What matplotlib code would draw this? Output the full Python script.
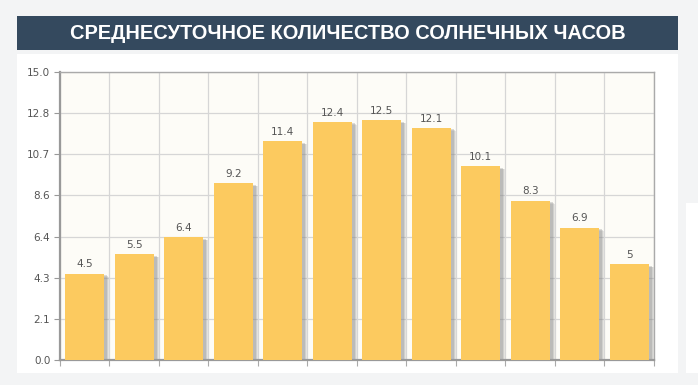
import numpy as np
import matplotlib.pyplot as plt
import matplotlib.transforms as mtransforms
from matplotlib.patches import Rectangle

# данные: среднесуточное количество солнечных часов по месяцам
months = list(range(1, 13))
hours = [4.5, 5.5, 6.4, 9.2, 11.4, 12.4, 12.5, 12.1, 10.1, 8.3, 6.9, 5]
hour_labels = ['4.5', '5.5', '6.4', '9.2', '11.4', '12.4', '12.5', '12.1', '10.1', '8.3', '6.9', '5']
y_max = 15.0
y_tick_labels = ['0.0', '2.1', '4.3', '6.4', '8.6', '10.7', '12.8', '15.0']

W, H = 698, 385
fig = plt.figure(figsize=(W / 100, H / 100), dpi=100)
fig.patch.set_facecolor('#f3f4f5')

# белая подложка и баннер заголовка (в пикселях фигуры)
def px_rect(x0, y0, x1, y1, color):
    fig.patches.append(Rectangle((x0 / W, 1 - y1 / H), (x1 - x0) / W, (y1 - y0) / H,
                                 transform=fig.transFigure, facecolor=color,
                                 edgecolor='none', zorder=-5))

px_rect(17, 54, 678, 373, '#ffffff')
px_rect(686, 203, 698, 373, '#ffffff')
px_rect(17, 16, 678, 50, '#34495e')
fig.text(347.5 / W, 1 - 33.5 / H, 'СРЕДНЕСУТОЧНОЕ КОЛИЧЕСТВО СОЛНЕЧНЫХ ЧАСОВ',
         color='white', fontsize=14.4, fontweight='bold', family='Liberation Sans',
         ha='center', va='center')

ax = fig.add_axes([60 / W, 25 / H, 594 / W, 288 / H])
ax.set_zorder(1)
ax.set_facecolor('#fdfcf7')

x = np.arange(len(months))
bw = 0.79

# тень под столбцами (размытая, из нескольких слоёв)
for dx, dy, a in [(5, -3, 0.18), (4, -2.5, 0.25), (3, -1.5, 0.3)]:
    off = mtransforms.offset_copy(ax.transData, fig=fig, x=dx, y=dy, units='dots')
    ax.bar(x, hours, width=bw, color='#8c8c8c', alpha=a, transform=off, zorder=2,
           linewidth=0)
ax.bar(x, hours, width=bw, color='#fcca5f', zorder=3, linewidth=0)

for xi, v, lab in zip(x, hours, hour_labels):
    ax.annotate(lab, (xi, v), xytext=(0, 3), textcoords='offset points',
                ha='center', va='bottom', fontsize=7.5, color='#555555', zorder=4)

ax.set_xlim(-0.5, len(months) - 0.5)
ax.set_ylim(0, y_max)
yt = np.linspace(0, y_max, len(y_tick_labels))
ax.set_yticks(yt)
ax.set_yticklabels(y_tick_labels)
ax.set_xticks(np.arange(-0.5, len(months), 1.0))
ax.set_xticklabels([])

ax.grid(True, color='#d6d6d6', linewidth=0.9, zorder=0)
ax.set_axisbelow(True)
ax.tick_params(axis='y', length=4, color='#999999', labelcolor='#555555',
               labelsize=7.5, pad=3)
ax.tick_params(axis='x', length=4, color='#aaaaaa')

for side in ['left', 'bottom']:
    ax.spines[side].set_color('#999999')
    ax.spines[side].set_linewidth(1.6)
for side in ['top', 'right']:
    ax.spines[side].set_color('#aaaaaa')
    ax.spines[side].set_linewidth(1.0)

fig.savefig('out.png', dpi=100, facecolor=fig.get_facecolor())
